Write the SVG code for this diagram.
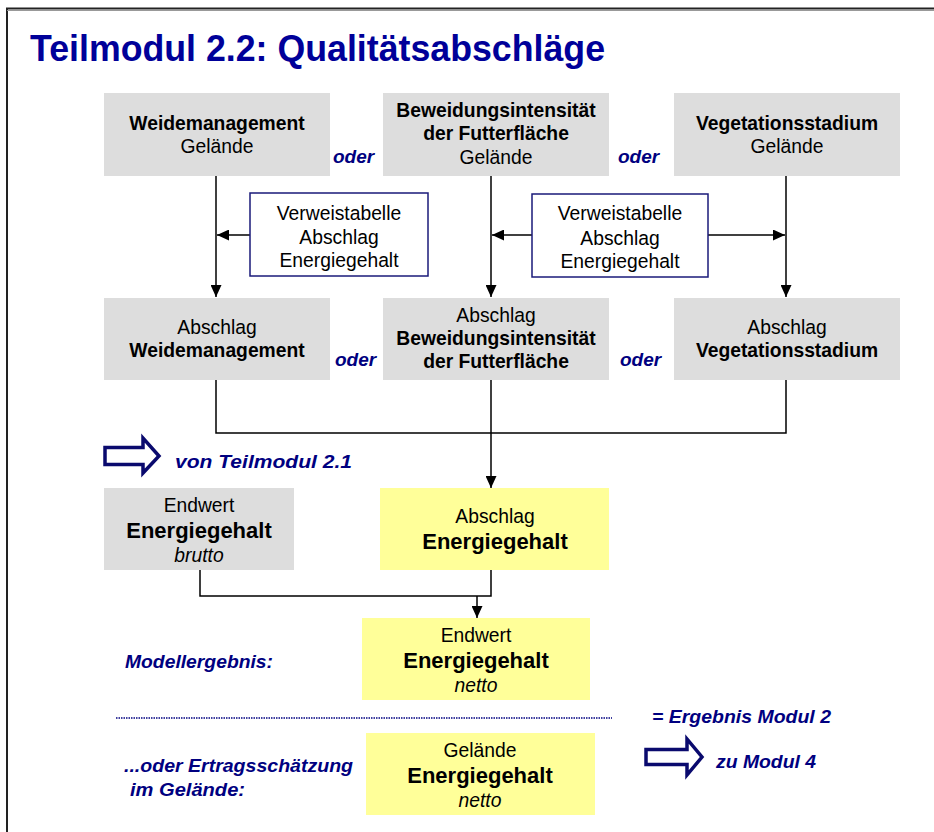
<svg xmlns="http://www.w3.org/2000/svg" width="934" height="832" viewBox="0 0 934 832">
  <defs>
    <marker id="ah" viewBox="0 0 12 11" refX="12" refY="5.5" markerWidth="12" markerHeight="11" markerUnits="userSpaceOnUse" orient="auto">
      <path d="M0,0 L12,5.5 L0,11 Z" fill="#000"/>
    </marker>
    <style>
      text { font-family: "Liberation Sans", Arial, sans-serif; fill: #000; }
      .r { font-size: 19.3px; text-anchor: middle; }
      .b { font-size: 19.3px; font-weight: bold; text-anchor: middle; }
      .big { font-size: 22px; font-weight: bold; text-anchor: middle; }
      .i { font-size: 19.3px; font-style: italic; text-anchor: middle; }
      .lbl { font-size: 19px; font-weight: bold; font-style: italic; fill: #000080; }
      .gray { fill: #dddddd; }
      .yel { fill: #ffff99; }
      .tab { fill: #fff; stroke: #1a1a7a; stroke-width: 1.5; }
      .ln { fill: none; stroke: #000; stroke-width: 1.5; }
      .hollow { fill: #fff; stroke: #0a0a6e; stroke-width: 3.5; stroke-linejoin: miter; }
    </style>
  </defs>

  <rect width="934" height="832" fill="#fff"/>
  <!-- page frame -->
  <path d="M7,840 L7,8.5 L940,8.5" fill="none" stroke="#222" stroke-width="2"/>
  <line x1="7" y1="10.5" x2="940" y2="10.5" stroke="#999" stroke-width="1"/>

  <text x="30" y="61" font-size="36" font-weight="bold" style="fill:#000099" textLength="575" lengthAdjust="spacingAndGlyphs">Teilmodul 2.2: Qualitätsabschläge</text>

  <!-- connectors -->
  <g id="connectors">
    <path class="ln" d="M216,176 V297" marker-end="url(#ah)"/>
    <path class="ln" d="M491,176 V297" marker-end="url(#ah)"/>
    <path class="ln" d="M786,176 V297" marker-end="url(#ah)"/>
    <path class="ln" d="M250,235 H217" marker-end="url(#ah)"/>
    <path class="ln" d="M532,235 H492" marker-end="url(#ah)"/>
    <path class="ln" d="M708,235 H785" marker-end="url(#ah)"/>
    <path class="ln" d="M216,380 V433 H786 V380"/>
    <path class="ln" d="M491,380 V488" marker-end="url(#ah)"/>
    <path class="ln" d="M200,570 V596 H491 V570"/>
    <path class="ln" d="M477,596 V618" marker-end="url(#ah)"/>
    <line x1="116" y1="718" x2="612" y2="718" stroke="#000080" stroke-width="1.5" stroke-dasharray="1.5,1"/>
  </g>

  <!-- row 1 -->
  <g id="weide-gelaende">
    <rect class="gray" x="104" y="93" width="226" height="83"/>
    <text class="b" x="217" y="130">Weidemanagement</text>
    <text class="r" x="217" y="153">Gelände</text>
  </g>
  <g id="beweidung-gelaende">
    <rect class="gray" x="383" y="93" width="226" height="83"/>
    <text class="b" x="496" y="117">Beweidungsintensität</text>
    <text class="b" x="496" y="140">der Futterfläche</text>
    <text class="r" x="496" y="164">Gelände</text>
  </g>
  <g id="vegetation-gelaende">
    <rect class="gray" x="674" y="93" width="226" height="83"/>
    <text class="b" x="787" y="130">Vegetationsstadium</text>
    <text class="r" x="787" y="153">Gelände</text>
  </g>
  <text class="lbl" x="333" y="163">oder</text>
  <text class="lbl" x="618" y="163">oder</text>

  <!-- lookup tables -->
  <g id="verweis-1">
    <rect class="tab" x="250" y="193" width="178" height="83"/>
    <text class="r" x="339" y="220">Verweistabelle</text>
    <text class="r" x="339" y="244">Abschlag</text>
    <text class="r" x="339" y="267">Energiegehalt</text>
  </g>
  <g id="verweis-2">
    <rect class="tab" x="532" y="194" width="176" height="83"/>
    <text class="r" x="620" y="220">Verweistabelle</text>
    <text class="r" x="620" y="245">Abschlag</text>
    <text class="r" x="620" y="268">Energiegehalt</text>
  </g>

  <!-- row 2 -->
  <g id="abschlag-weide">
    <rect class="gray" x="104" y="298" width="226" height="82"/>
    <text class="r" x="217" y="334">Abschlag</text>
    <text class="b" x="217" y="357">Weidemanagement</text>
  </g>
  <g id="abschlag-beweidung">
    <rect class="gray" x="383" y="298" width="226" height="82"/>
    <text class="r" x="496" y="322">Abschlag</text>
    <text class="b" x="496" y="345">Beweidungsintensität</text>
    <text class="b" x="496" y="368">der Futterfläche</text>
  </g>
  <g id="abschlag-vegetation">
    <rect class="gray" x="674" y="298" width="226" height="82"/>
    <text class="r" x="787" y="334">Abschlag</text>
    <text class="b" x="787" y="357">Vegetationsstadium</text>
  </g>
  <text class="lbl" x="335" y="366">oder</text>
  <text class="lbl" x="620" y="366">oder</text>

  <!-- input from 2.1 -->
  <g id="von-teilmodul">
    <path class="hollow" d="M105,447.5 H143 V438 L159,456 L143,473 V464.5 H105 Z"/>
    <text class="lbl" x="175" y="468" textLength="177" lengthAdjust="spacingAndGlyphs">von Teilmodul 2.1</text>
  </g>

  <g id="endwert-brutto">
    <rect class="gray" x="104" y="488" width="190" height="82"/>
    <text class="r" x="199" y="512">Endwert</text>
    <text class="big" x="199" y="538">Energiegehalt</text>
    <text class="i" x="199" y="562">brutto</text>
  </g>
  <g id="abschlag-energie">
    <rect class="yel" x="380" y="488" width="229" height="82"/>
    <text class="r" x="495" y="523">Abschlag</text>
    <text class="big" x="495" y="549">Energiegehalt</text>
  </g>

  <g id="endwert-netto">
    <rect class="yel" x="362" y="618" width="228" height="82"/>
    <text class="r" x="476" y="642">Endwert</text>
    <text class="big" x="476" y="668">Energiegehalt</text>
    <text class="i" x="476" y="692">netto</text>
  </g>
  <text class="lbl" x="125" y="668" textLength="148" lengthAdjust="spacingAndGlyphs">Modellergebnis:</text>

  <text class="lbl" x="652" y="723" textLength="179" lengthAdjust="spacingAndGlyphs">= Ergebnis Modul 2</text>

  <g id="gelaende-netto">
    <rect class="yel" x="366" y="733" width="229" height="82"/>
    <text class="r" x="480" y="757">Gelände</text>
    <text class="big" x="480" y="783">Energiegehalt</text>
    <text class="i" x="480" y="807">netto</text>
  </g>
  <text class="lbl" x="124" y="772" textLength="229" lengthAdjust="spacingAndGlyphs">...oder Ertragsschätzung</text>
  <text class="lbl" x="130" y="796" textLength="115" lengthAdjust="spacingAndGlyphs">im Gelände:</text>

  <g id="zu-modul-4">
    <path class="hollow" d="M646,749.5 H687 V739 L702,757 L687,775 V764.5 H646 Z"/>
    <text class="lbl" x="716" y="768" textLength="100" lengthAdjust="spacingAndGlyphs">zu Modul 4</text>
  </g>
</svg>
